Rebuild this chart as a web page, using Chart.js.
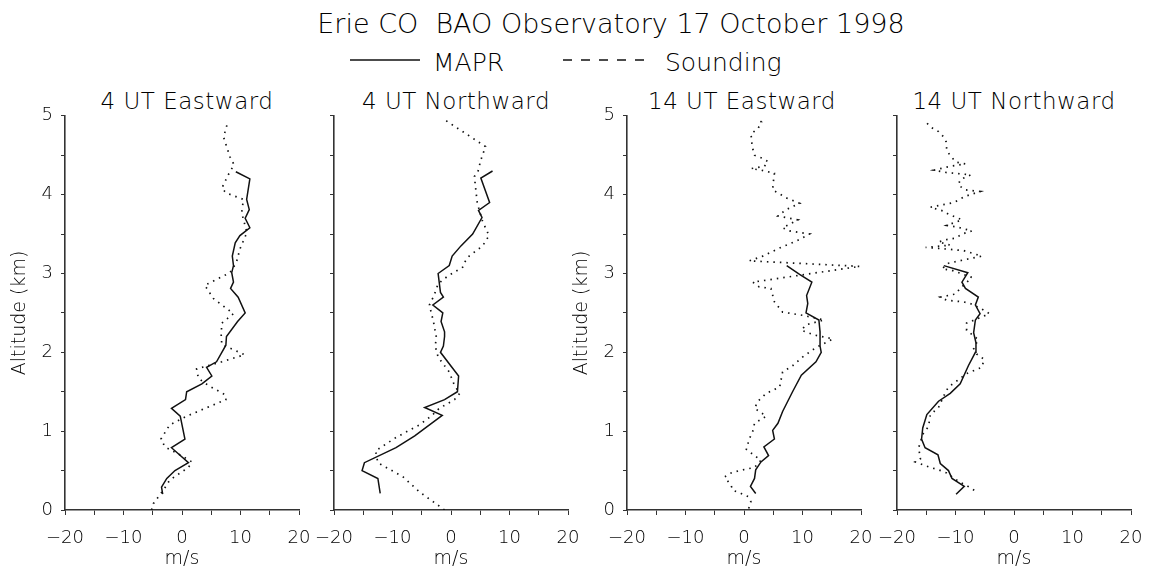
<!DOCTYPE html>
<html>
<head>
<meta charset="utf-8">
<script src="https://cdn.jsdelivr.net/npm/chart.js@4/dist/chart.umd.min.js"></script>
<style>
body{margin:0;background:#fff;width:1150px;height:574px;overflow:hidden;position:relative;font-family:"DejaVu Sans",sans-serif;font-weight:200;color:#000}
.txt{position:absolute;white-space:pre;text-align:center;line-height:1}
.panel{position:absolute;top:97px;width:324px;height:473px}
</style>
</head>
<body>

<div class="txt" style="left:311px;width:600px;top:10px;font-size:27px">Erie CO  BAO Observatory 17 October 1998</div>

<svg style="position:absolute;left:0;top:0" width="1150" height="80">
<line x1="350" y1="60" x2="420" y2="60" stroke="#111" stroke-width="1.5"/>
<line x1="563" y1="60" x2="652" y2="60" stroke="#111" stroke-width="1.5" stroke-dasharray="9,9"/>
</svg>
<div class="txt" style="left:433px;top:50px;font-size:25px;text-align:left">MAPR</div>
<div class="txt" style="left:665px;top:50px;font-size:25px;text-align:left">Sounding</div>

<div class="txt" style="left:-13px;width:400px;top:90px;font-size:23px;letter-spacing:0.5px">4 UT Eastward</div>
<div class="txt" style="left:256px;width:400px;top:90px;font-size:23px;letter-spacing:0.5px">4 UT Northward</div>
<div class="txt" style="left:542px;width:400px;top:90px;font-size:23px;letter-spacing:0.5px">14 UT Eastward</div>
<div class="txt" style="left:814px;width:400px;top:90px;font-size:23px;letter-spacing:0.5px">14 UT Northward</div>

<div class="panel" style="left:5px"><canvas id="c1" width="324" height="473"></canvas></div>
<div class="panel" style="left:274px"><canvas id="c2" width="324" height="473"></canvas></div>
<div class="panel" style="left:567px"><canvas id="c3" width="324" height="473"></canvas></div>
<div class="panel" style="left:837px"><canvas id="c4" width="324" height="473"></canvas></div>

<script>
// 4 UT Eastward
const e4MaprAlt=[0.2,0.29,0.4,0.5,0.6,0.79,0.9,1.19,1.29,1.4,1.5,1.6,1.7,1.81,1.88,2.09,2.2,2.39,2.5,2.7,2.81,2.89,3.01,3.1,3.22,3.39,3.48,3.58,3.7,3.81,3.94,4.2,4.29];
const e4Mapr=[-3.3,-3.5,-2.6,-1.2,1.1,-1.8,0.5,-0.3,-1.8,0.6,0.8,3.4,5.1,4.2,5.9,7.5,7.6,9.5,10.8,9.6,8.3,8.8,8.5,8.8,8.6,9.1,9.9,11.6,10.8,11.5,11.05,11.6,9.2];
const e4SondAlt=[0,0.08,0.25,0.38,0.54,0.61,0.71,0.8,0.9,1.08,1.19,1.4,1.46,1.58,1.67,1.79,1.88,1.97,2.1,2.22,2.37,2.49,2.68,2.85,3.01,3.14,3.31,3.52,3.77,3.94,4.02,4.08,4.25,4.38,4.48,4.73,4.94];
const e4Sond=[-5.2,-4.9,-3.2,-2.1,1.1,1.7,-0.6,-2.9,-3.6,-2.1,0.8,7.5,7.4,4.5,2.8,2.5,6.8,10.7,6.8,6.7,6.8,8.8,5.4,3.9,8.2,9.3,9.9,11.1,10.2,10.5,7.6,6.8,7.9,8.9,8.2,7.1,7.9];

// 4 UT Northward
const n4MaprAlt=[0.21,0.4,0.5,0.6,0.79,0.94,1.2,1.3,1.4,1.5,1.7,2.0,2.08,2.2,2.26,2.39,2.5,2.6,2.7,2.76,3.0,3.1,3.22,3.35,3.5,3.71,3.8,3.9,4.21,4.3];
const n4Mapr=[-12.1,-12.5,-15.2,-14.8,-9.4,-6.2,-1.5,-4.5,-1.1,1.1,1.3,-1.8,-1.3,-1.1,-1.1,-1.7,-1.4,-3.1,-1.3,-1.8,-2.2,-0.3,0.2,1.7,3.7,5.3,4.7,6.6,5.1,7.1];
const n4SondAlt=[0,0.06,0.23,0.42,0.6,0.75,0.92,1.08,1.19,1.29,1.4,1.48,1.58,1.75,1.94,2.08,2.19,2.39,2.6,2.72,2.87,2.97,3.08,3.14,3.22,3.35,3.48,3.66,3.89,4.02,4.23,4.29,4.44,4.61,4.95];
const n4Sond=[-1.1,-2.2,-5.4,-8.2,-12.5,-12.9,-9.4,-5.4,-3.4,-2.0,0.6,1.5,0.6,-0.3,-2.2,-2.7,-2.5,-3.0,-3.7,-2.9,-2.2,-0.5,2.0,2.3,3.1,5.4,6.5,5.4,4.5,4.3,4.0,4.6,5.1,5.9,-1.1];

// 14 UT Eastward
const e14MaprAlt=[0.21,0.3,0.4,0.51,0.61,0.69,0.8,0.9,1.01,1.1,1.25,1.5,1.71,1.88,2.0,2.08,2.26,2.41,2.5,2.62,2.72,2.89,2.99,3.1];
const e14Mapr=[2.0,1.1,1.8,2.0,2.9,4.2,3.4,5.2,4.9,5.8,6.6,8.3,9.8,12.3,13.2,13.0,13.0,12.8,10.6,10.9,10.7,11.6,9.5,7.3];
const e14SondAlt=[0.02,0.1,0.17,0.21,0.25,0.31,0.42,0.47,0.5,0.54,0.63,0.69,0.77,0.9,1.0,1.1,1.19,1.29,1.38,1.48,1.56,1.75,1.83,1.94,2.06,2.17,2.22,2.28,2.35,2.41,2.47,2.51,2.64,2.81,2.83,2.89,3.09,3.16,3.22,3.33,3.41,3.5,3.54,3.58,3.68,3.73,3.81,3.89,3.96,4.06,4.15,4.27,4.31,4.33,4.36,4.42,4.46,4.5,4.61,4.77,4.84,4.92,4.97];
const e14Sond=[0.8,1.2,0.7,-0.5,-1.9,-2.2,-3.3,-2.2,-0.8,1.8,2.9,1.8,0.4,0.9,1.5,1.8,3.8,1.8,2.4,3.8,6.1,6.6,8.3,10.0,12.3,15.2,12.0,9.8,10.6,13.7,10.0,6.6,5.2,4.6,2.6,1.5,19.8,0.9,3.2,6.3,8.9,11.2,7.8,6.6,9.2,5.8,7.2,9.5,7.2,4.9,5.0,5.2,3.0,1.2,3.5,4.1,3.2,1.8,1.4,1.2,2.4,3.0,2.2];

// 14 UT Northward
const n14MaprAlt=[0.2,0.3,0.4,0.5,0.59,0.7,0.79,0.9,1.04,1.21,1.38,1.48,1.6,1.83,2.0,2.12,2.25,2.41,2.49,2.6,2.7,2.81,2.89,3.01,3.1];
const n14Mapr=[-9.9,-8.5,-10.6,-11.2,-12.6,-13.0,-15.2,-15.8,-15.6,-14.9,-12.9,-10.9,-9.2,-7.8,-6.6,-6.5,-6.9,-6.6,-5.8,-6.6,-6.1,-8.3,-8.9,-7.9,-12.0];
const n14SondAlt=[0.25,0.31,0.35,0.42,0.47,0.51,0.54,0.61,0.65,0.79,0.96,1.06,1.21,1.3,1.48,1.56,1.63,1.73,1.81,1.91,1.98,2.05,2.16,2.28,2.37,2.45,2.49,2.55,2.62,2.64,2.66,2.7,2.74,2.81,2.95,3.04,3.06,3.13,3.18,3.22,3.29,3.31,3.33,3.36,3.4,3.43,3.45,3.5,3.54,3.59,3.61,3.68,3.71,3.75,3.79,3.84,3.9,3.98,4.04,4.06,4.12,4.19,4.25,4.26,4.28,4.31,4.36,4.39,4.41,4.49,4.57,4.67,4.73,4.8,4.86,4.95];
const n14Sond=[-6.8,-8.1,-9.2,-10.6,-11.5,-12.9,-14.3,-16.9,-16.0,-16.3,-15.6,-14.6,-14.3,-12.9,-11.8,-11.2,-9.9,-8.1,-5.5,-5.1,-6.4,-6.9,-6.1,-8.1,-8.1,-5.5,-4.2,-5.5,-7.5,-8.6,-11.5,-12.6,-10.0,-9.2,-7.2,-10.6,-12.3,-11.2,-8.1,-5.5,-8.6,-11.5,-15.1,-10.9,-12.9,-11.5,-9.9,-8.9,-7.2,-9.8,-11.5,-8.9,-9.8,-11.2,-12.0,-14.3,-10.3,-8.3,-5.8,-8.3,-9.5,-9.2,-7.4,-8.6,-11.5,-13.7,-10.9,-8.3,-9.8,-10.9,-11.5,-11.6,-12.0,-12.9,-14.3,-15.4];

const xTicks=[-20,-10,0,10,20];
const yTicks=[0,1,2,3,4,5];

const FONT="DejaVu Sans";
const INK="#000";

function pts(alt,val){
return alt.map((a,i)=>({x:val[i],y:a}));
}

function makePanel(id,maprAlt,mapr,sondAlt,sond,showY){
new Chart(document.getElementById(id),{
type:"scatter",
data:{
datasets:[
{label:"MAPR",data:pts(maprAlt,mapr),showLine:true,borderColor:"#111",borderWidth:1.5,pointRadius:0,tension:0},
{label:"Sounding",data:pts(sondAlt,sond),showLine:true,borderColor:"#111",borderWidth:1.7,borderDash:[1.5,5],pointRadius:0,tension:0}
]
},
options:{
responsive:false,
animation:false,
devicePixelRatio:1,
layout:{padding:{top:15,right:30,bottom:0,left:0}},
plugins:{legend:{display:false},tooltip:{enabled:false}},
scales:{
x:{
type:"linear",min:-20,max:20,
afterFit:s=>{s.height=60;},
border:{display:true,color:"#333",width:1.6},
grid:{drawOnChartArea:false,tickLength:5,color:"#333"},
ticks:{stepSize:5,padding:13,color:INK,font:{family:FONT,size:18,weight:200},maxRotation:0,autoSkip:false,
callback:v=>xTicks.includes(v)?String(v).replace("-","\u2212"):""},
title:{display:true,text:"m/s",color:INK,font:{family:FONT,size:19,weight:200},padding:{top:0,bottom:0}}
},
y:{
type:"linear",min:0,max:5,
afterFit:s=>{s.width=60;},
border:{display:true,color:"#333",width:1.6},
grid:{drawOnChartArea:false,tickLength:4,color:"#333"},
ticks:{stepSize:0.5,padding:8,color:INK,font:{family:FONT,size:18,weight:200},autoSkip:false,
callback:v=>showY&&yTicks.includes(v)?String(v):""},
title:{display:showY,text:"Altitude (km)",color:INK,font:{family:FONT,size:19,weight:200},padding:{top:4,bottom:0}}
}
}
}
});
}

makePanel("c1",e4MaprAlt,e4Mapr,e4SondAlt,e4Sond,true);
makePanel("c2",n4MaprAlt,n4Mapr,n4SondAlt,n4Sond,false);
makePanel("c3",e14MaprAlt,e14Mapr,e14SondAlt,e14Sond,true);
makePanel("c4",n14MaprAlt,n14Mapr,n14SondAlt,n14Sond,false);
</script>
</body>
</html>
